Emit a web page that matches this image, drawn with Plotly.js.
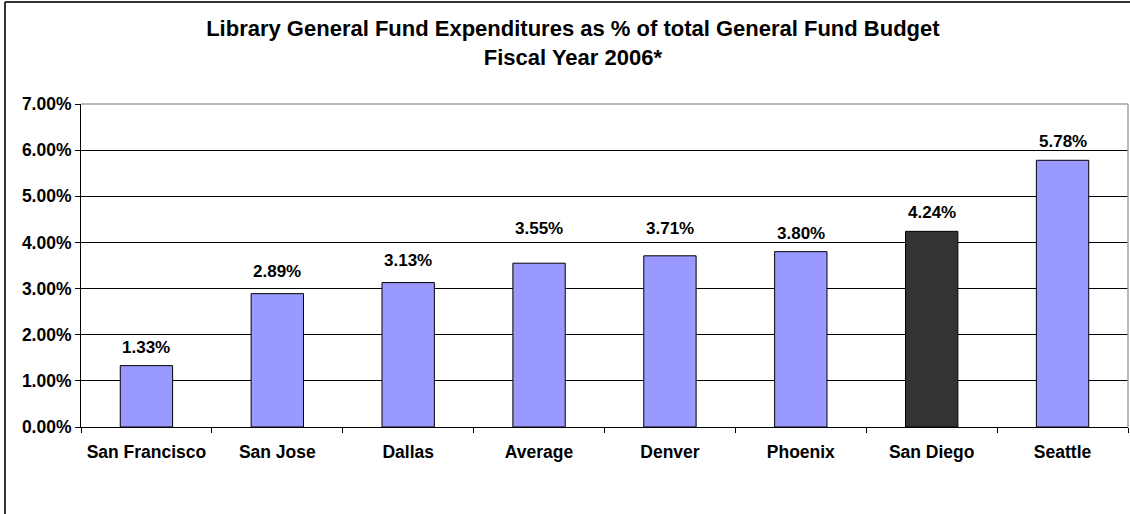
<!DOCTYPE html>
<html>
<head>
<meta charset="utf-8">
<script src="https://cdn.plot.ly/plotly-3.0.1.min.js"></script>
<style>
html,body{margin:0;padding:0;background:#fff;}
#chart{width:1130px;height:514px;}
</style>
</head>
<body>
<div id="chart"></div>
<script>
const categories = ["San Francisco","San Jose","Dallas","Average","Denver","Phoenix","San Diego","Seattle"];
const values = [1.33, 2.89, 3.13, 3.55, 3.71, 3.80, 4.24, 5.78];
const highlight = "San Diego";
const yTickVals = [0,1,2,3,4,5,6,7];
const yTickText = ["0.00%","1.00%","2.00%","3.00%","4.00%","5.00%","6.00%","7.00%"];

// styling: extra pixel lift of some value labels, as placed in the original chart
const labelLiftPx = [0, 4, 4, 16, 9, 0, 0, 0];

const FONT = "Liberation Sans, Arial, sans-serif";
const colors = categories.map(c => c === highlight ? "#333333" : "#9999FF");

const trace = {
  type: "bar",
  x: categories,
  y: values,
  width: 0.4,
  marker: {color: colors, line: {color: "#000000", width: 1}},
  hoverinfo: "skip"
};

const annotations = categories.map((c, i) => ({
  x: c, y: values[i], xref: "x", yref: "y",
  text: "<b>" + values[i].toFixed(2) + "%</b>",
  showarrow: false, yanchor: "bottom", yshift: 7 + labelLiftPx[i],
  font: {family: FONT, size: 17, color: "#000"}
}));

const layout = {
  width: 1130, height: 514,
  margin: {l: 81, r: 2, t: 104, b: 87},
  paper_bgcolor: "#ffffff",
  plot_bgcolor: "#ffffff",
  showlegend: false,
  font: {family: FONT, size: 17, color: "#000", weight: "bold"},
  title: {
    text: "<b>Library General Fund Expenditures as % of total General Fund Budget<br>Fiscal Year 2006*</b>",
    x: 0.507, xanchor: "center", yref: "container", y: 0.93, yanchor: "middle",
    font: {family: FONT, size: 22, color: "#000"}
  },
  xaxis: {
    type: "category",
    showgrid: false,
    showline: true, linecolor: "#000", linewidth: 1,
    ticks: "outside", tickson: "boundaries", ticklen: 5, tickcolor: "#000",
    tickangle: 0,
    ticklabelstandoff: 9,
    tickfont: {family: FONT, size: 17.5, color: "#000", weight: "bold"},
    fixedrange: true
  },
  yaxis: {
    range: [0, 7],
    tickvals: yTickVals, ticktext: yTickText,
    showgrid: true, gridcolor: "#000", gridwidth: 1,
    zeroline: false,
    showline: true, linecolor: "#000", linewidth: 1,
    ticks: "outside", ticklen: 5, tickcolor: "#000",
    tickfont: {family: FONT, size: 17.5, color: "#000", weight: "bold"},
    fixedrange: true
  },
  shapes: [
    {type: "line", xref: "paper", yref: "paper", x0: 0, x1: 1, y0: 1, y1: 1, line: {color: "#a0a0a0", width: 1.5}},
    {type: "line", xref: "paper", yref: "paper", x0: 1, x1: 1, y0: 0, y1: 1, line: {color: "#a0a0a0", width: 1.5}},
    {type: "line", xref: "paper", yref: "paper", x0: -0.0726, x1: -0.0726, y0: -0.3, y1: 1.3158, line: {color: "#333", width: 2}},
    {type: "line", xref: "paper", yref: "paper", x0: -0.0726, x1: 1.01, y0: 1.3158, y1: 1.3158, line: {color: "#333", width: 2}}
  ],
  annotations: annotations
};

Plotly.newPlot("chart", [trace], layout, {displayModeBar: false, staticPlot: true});
</script>
</body>
</html>
